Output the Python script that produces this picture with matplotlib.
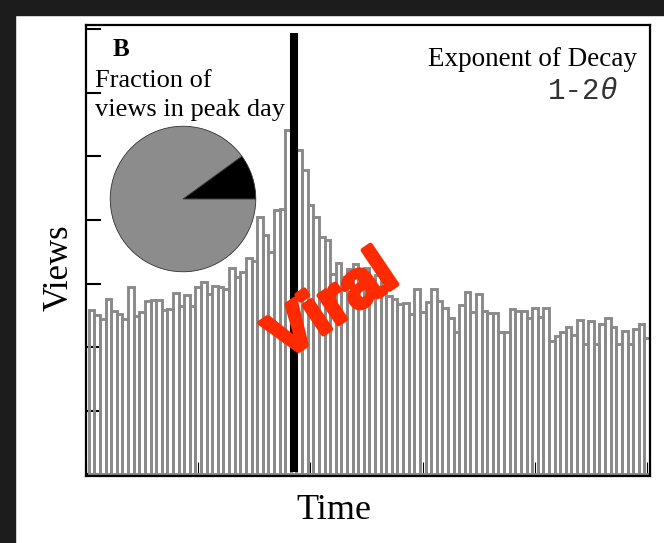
import numpy as np
import matplotlib
matplotlib.use("Agg")
import matplotlib.pyplot as plt
import matplotlib.patheffects as pe
from matplotlib.patches import Rectangle

# ---- data ----
days = list(range(1, 101))
views = [
    2.58, 2.51, 2.44, 2.76, 2.56, 2.52, 2.44, 2.95, 2.49, 2.55,
    2.72, 2.74, 2.74, 2.58, 2.60, 2.85, 2.65, 2.82, 2.65, 2.94,
    3.02, 2.83, 2.96, 2.94, 2.91, 3.24, 3.10, 3.18, 3.40, 3.36,
    4.05, 3.77, 3.49, 4.15, 4.17, 5.42, 5.00, 5.10, 4.78, 4.23,
    4.05, 3.74, 3.69, 3.15, 3.32, 3.10, 3.23, 3.30, 3.05, 3.25,
    3.00, 3.13, 2.95, 2.80, 2.76, 2.68, 2.70, 2.52, 2.91, 2.55,
    2.71, 2.92, 2.73, 2.62, 2.45, 2.23, 2.66, 2.86, 2.55, 2.83,
    2.56, 2.54, 2.54, 2.23, 2.23, 2.60, 2.56, 2.56, 2.45, 2.62,
    2.47, 2.62, 2.10, 2.18, 2.23, 2.31, 2.19, 2.43, 2.05, 2.41,
    2.05, 2.36, 2.45, 2.31, 2.05, 2.26, 2.05, 2.29, 2.36, 2.14,
]
peak_day = 37
pie_fractions = [0.1, 0.9]
pie_colors = ["black", "#8c8c8c"]
x_ticks = [0, 20, 40, 60, 80, 100]
y_ticks = [0, 1, 2, 3, 4, 5, 6, 7]

W, H = 664, 543
fig = plt.figure(figsize=(W / 100, H / 100), dpi=100)

def fx(px):
    return px / W

def fy(py):
    return 1 - py / H

# frame bands
fig.patches.append(Rectangle((0, fy(15)), 1, 15 / H, transform=fig.transFigure,
                             color="#1c1c1c", zorder=0))
fig.patches.append(Rectangle((0, 0), 15 / W, fy(15), transform=fig.transFigure,
                             color="#1c1c1c", zorder=0))

ax = fig.add_axes([fx(86), fy(476), (650 - 86) / W, (476 - 25) / H])
ax.bar(days, views, width=1.0, facecolor="none", edgecolor="#8a8a8a",
       linewidth=2.1, zorder=2)
ax.axvline(peak_day, ymin=0.009, ymax=0.982, color="black", linewidth=5.8,
           solid_capstyle="butt", zorder=3)
ax.set_xlim(0, 100.5)
ax.set_ylim(-0.03, 7.07)
ax.set_xticks(x_ticks)
ax.set_yticks(y_ticks)
ax.set_xticklabels([])
ax.set_yticklabels([])
ax.tick_params(axis="y", direction="in", length=11, width=1.5, color="black")
ax.tick_params(axis="x", direction="in", length=10, width=0.8, color="black")
for s in ax.spines.values():
    s.set_linewidth(1.6)
    s.set_color("black")
    s.set_zorder(4)

serif = ["Liberation Serif", "DejaVu Serif"]
ax.set_xlabel("Time", fontsize=26, family=serif)
ax.xaxis.set_label_coords((334 - 86) / 564, -0.04)
fig.text(fx(59), fy(268), "Views", rotation=90, ha="center", va="center",
         fontsize=25, family=serif)

fig.text(fx(113), fy(56), "B", fontsize=18, fontweight="bold", family=serif,
         ha="left", va="baseline")
fig.text(fx(95), fy(87), "Fraction of", fontsize=19, family=serif,
         ha="left", va="baseline")
fig.text(fx(95), fy(116), "views in peak day", fontsize=19, family=serif,
         ha="left", va="baseline")
fig.text(fx(637), fy(66), "Exponent of Decay", fontsize=19.5, family=serif,
         ha="right", va="baseline")
mono = ["Liberation Mono", "DejaVu Sans Mono"]
fig.text(fx(617), fy(99), "θ", fontsize=21, family=mono, fontstyle="italic",
         color="#333333", ha="right", va="baseline")
fig.text(fx(600), fy(99), "1-2", fontsize=21, family=mono,
         color="#333333", ha="right", va="baseline")

ax.text((333 - 86) / 564, (476 - 307) / 451, "Viral", transform=ax.transAxes,
        rotation=34, rotation_mode="anchor", ha="center", va="center",
        fontsize=47, fontweight="bold", color="#ff2a00",
        family=["Liberation Sans", "DejaVu Sans"], zorder=5,
        path_effects=[pe.withStroke(linewidth=3.5, foreground="#ff2a00")])

# pie inset
r = 73.5
pax = fig.add_axes([fx(183 - r), fy(199 + r), 2 * r / W, 2 * r / H])
pax.pie(pie_fractions, colors=pie_colors, startangle=0, counterclock=True,
        radius=1, wedgeprops=dict(edgecolor="#333333", linewidth=0.6))
pax.set_xlim(-1.01, 1.01)
pax.set_ylim(-1.01, 1.01)
pax.set_aspect("auto")
pax.axis("off")

fig.savefig("out.png", dpi=100)
